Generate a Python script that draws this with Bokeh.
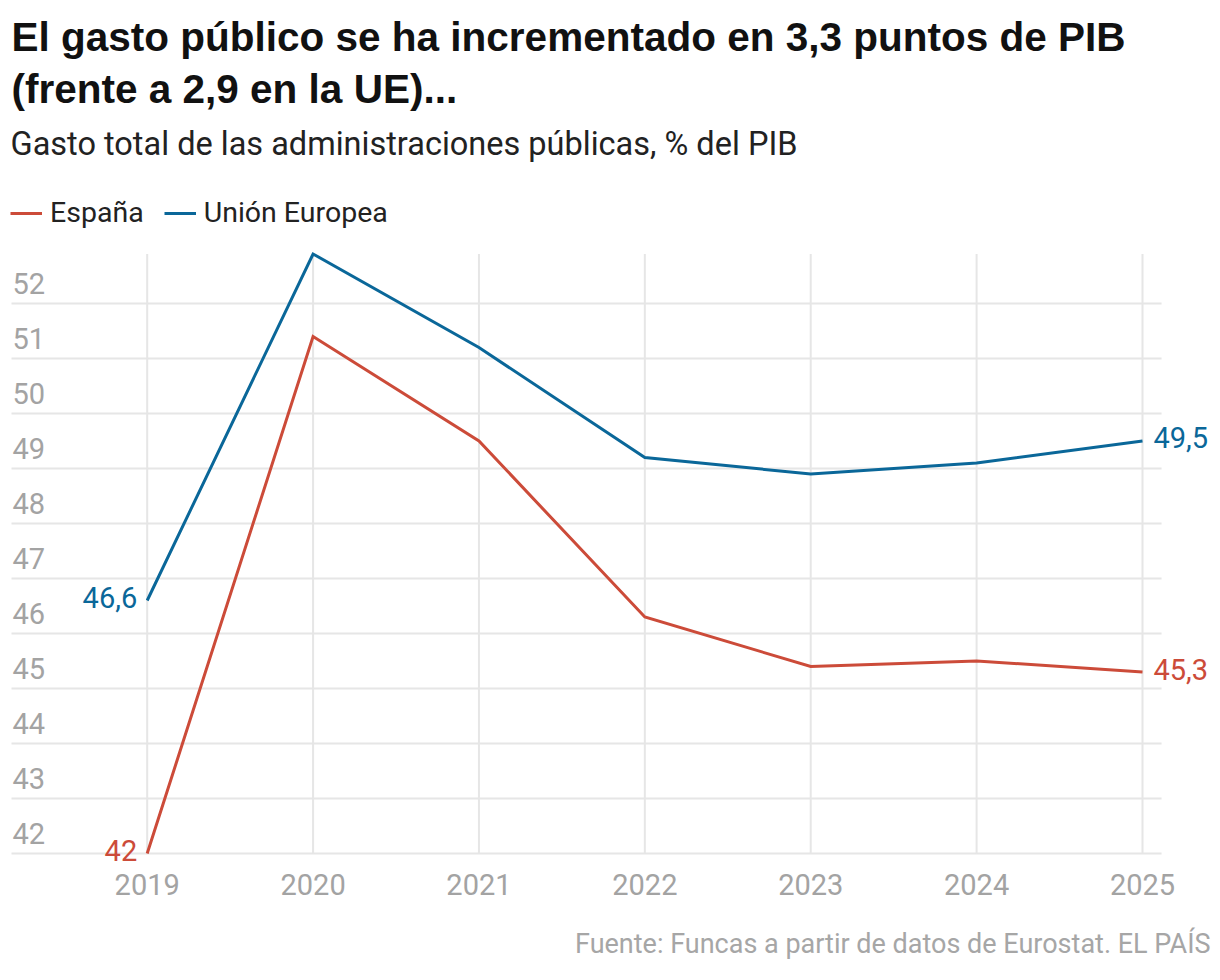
from bokeh.plotting import figure
from bokeh.models import Range1d, Label, Legend, LegendItem
from bokeh.core.properties import value
from bokeh.embed import file_html
from bokeh.resources import INLINE

# --- data -------------------------------------------------------------
years = [2019, 2020, 2021, 2022, 2023, 2024, 2025]
year_labels = ["2019", "2020", "2021", "2022", "2023", "2024", "2025"]
espana = [42.0, 51.4, 49.5, 46.3, 45.4, 45.5, 45.3]
union_europea = [46.6, 52.9, 51.2, 49.2, 48.9, 49.1, 49.5]
y_ticks = [42, 43, 44, 45, 46, 47, 48, 49, 50, 51, 52]
y_tick_labels = ["42", "43", "44", "45", "46", "47", "48", "49", "50", "51", "52"]

# --- style ------------------------------------------------------------
RED = "#cc4b39"
BLUE = "#0a6799"
GRID = "#e6e6e6"
AXIS_TXT = "#a3a3a3"
FONT = "Roboto"
TITLE_FONT = "Liberation Sans"

W, H = 1220, 980

# frame fills the whole canvas; ranges chosen so the plotting area sits
# where the header and footer leave room
p = figure(width=W, height=H, output_backend="svg", toolbar_location=None,
           x_range=Range1d(2018.1157, 2025.4702), y_range=Range1d(39.691, 57.509),
           x_axis_type=None, y_axis_type=None, min_border=0,
           outline_line_color=None, background_fill_color="white",
           border_fill_color="white")

X_LEFT, X_RIGHT = 2018.182, 2025.115
y_top = max(union_europea)

# grid
p.segment(x0=[X_LEFT] * len(y_ticks), y0=y_ticks, x1=[X_RIGHT] * len(y_ticks), y1=y_ticks,
          line_color=GRID, line_width=2)
p.segment(x0=years, y0=[y_ticks[0]] * len(years), x1=years, y1=[y_top] * len(years),
          line_color=GRID, line_width=2)

# y tick labels, sitting above each gridline
p.text(x=[X_LEFT] * len(y_ticks), y=y_ticks, text=y_tick_labels,
       text_font=value(FONT), text_font_size="29px", text_color=AXIS_TXT,
       text_align="left", text_baseline="alphabetic", x_offset=1, y_offset=-20)

# x tick labels
p.text(x=years, y=[y_ticks[0]] * len(years), text=year_labels,
       text_font=value(FONT), text_font_size="29px", text_color=AXIS_TXT,
       text_align="center", text_baseline="alphabetic", y_offset=31)

# series
r_es = p.line(years, espana, line_color=RED, line_width=3, line_join="miter")
r_ue = p.line(years, union_europea, line_color=BLUE, line_width=3, line_join="miter")

def fmt(v):
    return (("%.1f" % v).rstrip("0").rstrip(".")).replace(".", ",")

# end-point value labels
p.text(x=[years[0], years[0]], y=[espana[0], union_europea[0]],
       text=[fmt(espana[0]), fmt(union_europea[0])],
       text_color=[RED, BLUE], text_font=value(FONT), text_font_size="29px",
       text_align="right", text_baseline="middle", x_offset=-10, y_offset=-3)
p.text(x=[years[-1], years[-1]], y=[espana[-1], union_europea[-1]],
       text=[fmt(espana[-1]), fmt(union_europea[-1])],
       text_color=[RED, BLUE], text_font=value(FONT), text_font_size="29px",
       text_align="left", text_baseline="middle", x_offset=11, y_offset=-3)

# legend
legend = Legend(items=[LegendItem(label="España", renderers=[r_es]),
                       LegendItem(label="Unión Europea", renderers=[r_ue])],
                orientation="horizontal", location=(10, H - 229),
                glyph_width=32, glyph_height=20, label_standoff=8, spacing=20,
                padding=0, margin=0, border_line_color=None,
                background_fill_alpha=0, label_text_font=FONT,
                label_text_font_size="28.5px", label_text_color="#222222")
p.add_layout(legend, "center")

# header and footer; y_base is the wanted baseline, measured from the top
def add_text(text, x, y_base, size, color, font=FONT, style="normal", align="left"):
    shift = 0.36 * size
    p.add_layout(Label(x=x, y=H - y_base + shift, x_units="screen", y_units="screen",
                       text=text, text_font=font, text_font_size="%spx" % size,
                       text_font_style=style, text_color=color,
                       text_align=align, text_baseline="alphabetic"))

add_text("El gasto público se ha incrementado en 3,3 puntos de PIB", 11, 51, 40.5,
         "#111111", font=TITLE_FONT, style="bold")
add_text("(frente a 2,9 en la UE)...", 11, 103, 40.5, "#111111",
         font=TITLE_FONT, style="bold")
add_text("Gasto total de las administraciones públicas, % del PIB", 10, 155, 32.5, "#222222")
add_text("Fuente: Funcas a partir de datos de Eurostat. EL PAÍS", 1210, 953, 27,
         "#a6a6a6", align="right")

open("out.html", "w").write(file_html(p, INLINE))
